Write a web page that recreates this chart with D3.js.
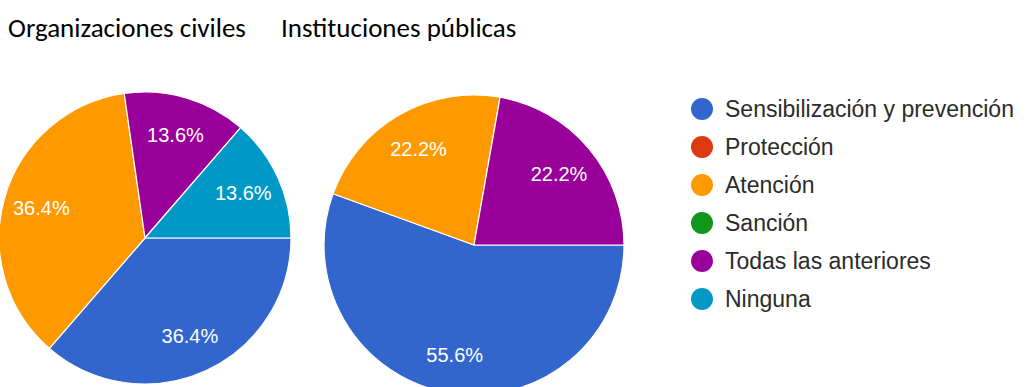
<!DOCTYPE html>
<html><head><meta charset="utf-8">
<script src="https://cdn.jsdelivr.net/npm/d3@7"></script>
<style>html,body{margin:0;padding:0;background:#fff;overflow:hidden}</style>
</head><body>
<svg id="chart" width="1029" height="387"></svg>
<script>
const categories = ["Sensibilización y prevención","Protección","Atención","Sanción","Todas las anteriores","Ninguna"];
const colors = ["#3366cc","#dc3912","#ff9900","#109618","#990099","#0099c6"];
const titles = ["Organizaciones civiles","Instituciones públicas"];
const civiles = [8,0,8,0,3,3];
const publicas = [5,0,2,0,2,0];

const svg = d3.select("#chart");
const color = d3.scaleOrdinal().domain(categories).range(colors);

const pies = [
  {title: titles[0], values: civiles, cx: 145, cy: 238, r: 146, tx: 8},
  {title: titles[1], values: publicas, cx: 474, cy: 245, r: 150, tx: 281}
];

const pie = d3.pie().sort(null).value(d => d.v)
  .startAngle(Math.PI/2).endAngle(Math.PI/2 + 2*Math.PI);

pies.forEach(p => {
  svg.append("text").attr("x", p.tx).attr("y", 37)
    .attr("font-family", "Carlito, Lato, 'Open Sans', sans-serif")
    .attr("font-size", 27).attr("fill", "#000").text(p.title);
  const data = categories.map((c,i) => ({c, v: p.values[i]}));
  const total = d3.sum(p.values);
  const arcs = pie(data);
  const arc = d3.arc().innerRadius(0).outerRadius(p.r);
  const labelArc = d3.arc().innerRadius(p.r*0.74).outerRadius(p.r*0.74);
  const g = svg.append("g").attr("transform", `translate(${p.cx},${p.cy})`);
  g.selectAll("path").data(arcs.filter(a => a.data.v > 0)).join("path")
    .attr("d", arc).attr("fill", d => color(d.data.c))
    .attr("stroke", "#fff").attr("stroke-width", 1.2);
  g.selectAll("text").data(arcs.filter(a => a.data.v > 0)).join("text")
    .attr("transform", d => `translate(${labelArc.centroid(d)})`)
    .attr("text-anchor", "middle").attr("dy", "0.36em")
    .attr("font-family", "Arial, 'Liberation Sans', sans-serif")
    .attr("font-size", 20).attr("fill", "#fff")
    .text(d => (d.data.v/total*100).toFixed(1) + "%");
});

const legend = svg.append("g");
const ly = d3.scalePoint().domain(categories).range([109, 299]);
const items = legend.selectAll("g").data(categories).join("g")
  .attr("transform", d => `translate(702,${ly(d)})`);
items.append("circle").attr("r", 11).attr("fill", d => color(d));
items.append("text").attr("x", 23).attr("dy", "0.36em")
  .attr("font-family", "Arial, 'Liberation Sans', sans-serif")
  .attr("font-size", 23).attr("fill", "#2b2b2b").text(d => d);
</script>
</body></html>
